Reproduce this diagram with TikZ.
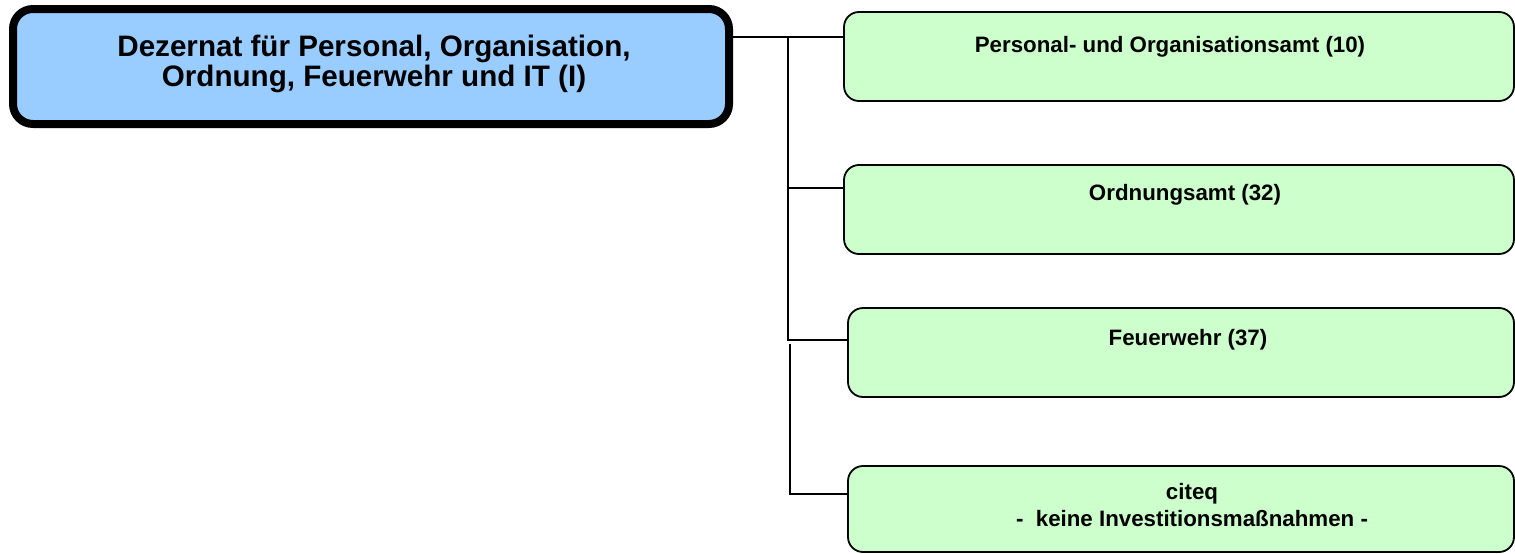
\documentclass[tikz,border=0pt]{standalone}
\usepackage{fontspec}
\setmainfont{Liberation Sans}
\definecolor{mainblue}{HTML}{99CCFF}
\definecolor{boxgreen}{HTML}{CCFFCC}
\begin{document}
\begin{tikzpicture}[x=1pt,y=-1pt,
  mainbox/.style={draw=black,line width=8pt,fill=mainblue,rounded corners=20pt,inner sep=0pt,minimum width=716pt,minimum height=115pt},
  unitbox/.style={draw=black,line width=1.8pt,fill=boxgreen,rounded corners=15pt,inner sep=0pt,minimum height=89pt},
  maintext/.style={font=\bfseries\fontsize{29.6}{30}\selectfont,align=center,inner sep=0pt},
  unittext/.style={font=\bfseries\fontsize{22.3}{27}\selectfont,align=center,inner sep=0pt},
  conn/.style={draw=black,line width=1.8pt}]
\useasboundingbox (0,0) rectangle (1515,554);
\node[mainbox] (main) at (371,66.5) {};
\node[maintext] (maintxt) at (374,64) {Dezernat für Personal, Organisation,\\Ordnung, Feuerwehr und IT (I)};
\node[unitbox,minimum width=670pt] (b1) at (1179,56.5) {};
\node[unitbox,minimum width=670pt] (b2) at (1179,209.5) {};
\node[unitbox,minimum width=666pt] (b3) at (1181,352.5) {};
\node[unitbox,minimum width=666pt,minimum height=86pt] (b4) at (1181,509) {};
\node[unittext] (t1) at (1170,46.5) {Personal- und Organisationsamt (10)};
\node[unittext] (t2) at (1185,194.5) {Ordnungsamt (32)};
\node[unittext] (t3) at (1188,339.5) {Feuerwehr (37)};
\node[unittext] (t4) at (1192,505) {citeq\\-\ \ keine Investitionsmaßnahmen -};
\coordinate (j1) at (788,37);
\coordinate (j2) at (788,188);
\coordinate (j3) at (788,340);
\coordinate (j4a) at (790,344);
\coordinate (j4) at (790,494);
\draw[conn] (main.east |- j1) -- (b1.west |- j1);
\draw[conn] (j1) -- (j3) -- (b3.west |- j3);
\draw[conn] (j2) -- (b2.west |- j2);
\draw[conn] (j4a) -- (j4) -- (b4.west |- j4);
\end{tikzpicture}
\end{document}
